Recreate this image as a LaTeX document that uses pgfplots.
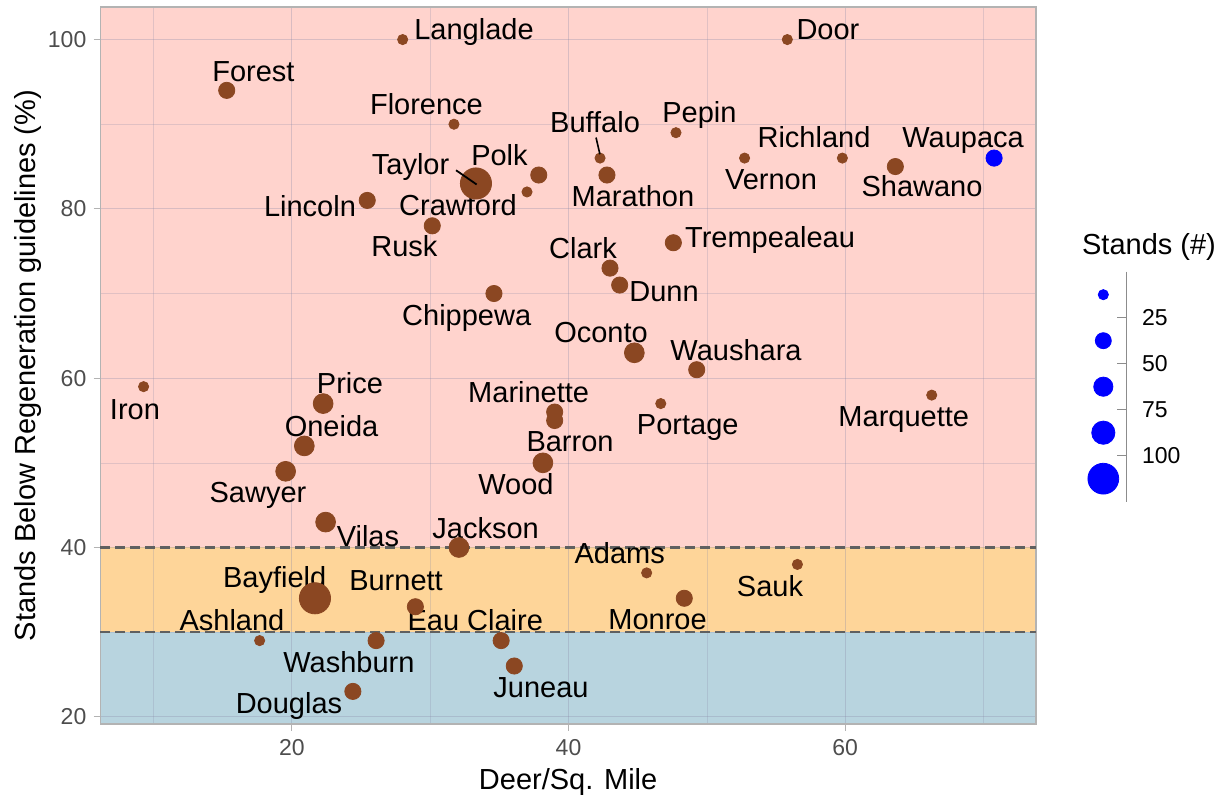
\documentclass[border=0pt]{standalone}
\usepackage{pgfplots}
\usepackage{pgfplotstable}
\pgfplotsset{compat=1.18}
\usepackage{fontspec}
\setmainfont{Liberation Sans}
\definecolor{pinkband}{HTML}{FFD3CD}
\definecolor{orangeband}{HTML}{FED599}
\definecolor{blueband}{HTML}{B8D4DF}
\definecolor{brownpt}{HTML}{8B4722}
\definecolor{borderg}{HTML}{B3B3B3}
\definecolor{tickg}{HTML}{4D4D4D}
\definecolor{gridc}{HTML}{8A8AA8}
\definecolor{dashg}{HTML}{606060}
\definecolor{legg}{HTML}{8C8C8C}
\newcommand{\lab}{\fontsize{14.5}{17}\selectfont}
\newcommand{\tck}{\fontsize{11.5}{13}\selectfont}

\pgfplotstableread{
x y r
28.01 100 2.55
55.82 100 2.55
15.29 94 4.05
31.72 90 2.55
47.77 89 2.55
42.28 86 2.55
52.73 86 2.55
59.80 86 2.55
63.63 85 4.05
33.31 83 7.8
37.85 84 4.05
42.78 84 4.05
37.00 82 2.55
25.45 81 4.05
30.15 78 4.05
47.58 76 4.05
43.00 73 4.05
43.70 71 4.05
34.61 70 4.05
44.76 63 4.95
49.27 61 4.05
9.28 59 2.55
66.26 58 2.55
46.67 57 2.55
22.26 57 4.95
39.00 56 4.05
39.00 55 4.05
38.15 50 4.95
20.90 52 4.95
19.55 49 4.95
22.44 43 4.95
32.08 40 4.95
45.65 37 2.55
56.55 38 2.55
21.67 34 7.8
48.37 34 4.05
28.93 33 4.05
17.67 29 2.55
26.09 29 4.05
35.13 29 4.05
36.08 26 4.05
24.41 23 4.05
}\brownpts

\pgfplotstableread{
x y r
70.77 86 4.05
}\bluepts

\pgfplotstableread{
x y r
0 12.5 2.55
0 37.5 4.0
0 62.5 4.8
0 87.5 5.8
0 112.5 7.7
}\legpts

\begin{document}
\begin{tikzpicture}
\begin{axis}[
  set layers,
  at={(0pt,0pt)}, anchor=south west,
  scale only axis, width=467.85pt, height=358.5pt,
  xmin=6.15, xmax=73.8, ymin=19.15, ymax=103.85,
  xtick={20,40,60}, minor xtick={10,30,50,70},
  ytick={20,40,60,80,100}, minor ytick={30,50,70,90},
  grid=both,
  major grid style={draw=gridc, opacity=0.32, line width=0.55pt},
  minor grid style={draw=gridc, opacity=0.25, line width=0.3pt},
  tick pos=left, tick align=outside,
  major tick length=3.3pt, minor tick length=0pt,
  tick style={draw=borderg, line width=0.6pt},
  axis line style={draw=borderg, line width=0.7pt},
  /pgf/number format/assume math mode=true,
  ticklabel style={font=\tck, text=tickg, inner sep=0pt},
  yticklabel style={anchor=east, xshift=-3.5pt},
  xticklabel style={anchor=north, yshift=-4.3pt},
  xlabel={Deer/Sq. Mile},
  ylabel={Stands Below Regeneration guidelines (\%)},
  label style={font=\lab},
  xlabel style={at={([yshift=-32.65pt]axis description cs:0.5,0)}, anchor=base},
  ylabel style={at={([xshift=-32.3pt]axis description cs:0,0.5)}, anchor=base},
  clip=false,
]
\begin{pgfonlayer}{axis background}
\fill[blueband] (axis cs:6.15,19.15) rectangle (axis cs:73.8,30);
\fill[orangeband] (axis cs:6.15,30) rectangle (axis cs:73.8,40);
\fill[pinkband] (axis cs:6.15,40) rectangle (axis cs:73.8,103.85);
\end{pgfonlayer}
\draw[dashg, line width=1.2pt, dash pattern=on 4.8pt off 2.7pt] (axis cs:6.15,40) -- (axis cs:73.8,40);
\draw[dashg, line width=1.2pt, dash pattern=on 4.8pt off 2.7pt] (axis cs:6.15,30) -- (axis cs:73.8,30);

\addplot[scatter, only marks, mark=*,
  scatter/use mapped color={draw=brownpt, fill=brownpt},
  visualization depends on={\thisrow{r} \as \msz},
  scatter/@pre marker code/.append style={/tikz/mark size=\msz}]
  table[x=x, y=y]{\brownpts};
\addplot[scatter, only marks, mark=*,
  scatter/use mapped color={draw=blue, fill=blue},
  visualization depends on={\thisrow{r} \as \msz},
  scatter/@pre marker code/.append style={/tikz/mark size=\msz}]
  table[x=x, y=y]{\bluepts};

\begin{pgfonlayer}{axis foreground}
\draw[black, line width=0.8pt] (axis cs:41.99,88.43) -- (axis cs:42.27,86.45);
\draw[black, line width=0.9pt] (axis cs:31.87,84.56) -- (axis cs:33.36,82.88);
\end{pgfonlayer}

\begin{scope}[every node/.style={font=\lab, anchor=base, inner sep=0pt}]
\node at (axis cs:33.17,100.04) {Langlade};
\node at (axis cs:58.76,100.04) {Door};
\node at (axis cs:17.22,95.08) {Forest};
\node at (axis cs:29.73,91.14) {Florence};
\node at (axis cs:49.47,90.2) {Pepin};
\node at (axis cs:41.92,89.02) {Buffalo};
\node at (axis cs:57.75,87.2) {Richland};
\node at (axis cs:68.53,87.2) {Waupaca};
\node at (axis cs:54.64,82.32) {Vernon};
\node at (axis cs:65.56,81.41) {Shawano};
\node at (axis cs:28.58,84.03) {Taylor};
\node at (axis cs:35.01,85.07) {Polk};
\node at (axis cs:44.66,80.23) {Marathon};
\node at (axis cs:21.31,79.05) {Lincoln};
\node at (axis cs:32.01,79.25) {Crawford};
\node at (axis cs:28.14,74.33) {Rusk};
\node at (axis cs:54.57,75.39) {Trempealeau};
\node at (axis cs:41.05,74.14) {Clark};
\node at (axis cs:46.91,69.01) {Dunn};
\node at (axis cs:32.64,66.26) {Chippewa};
\node at (axis cs:42.35,64.17) {Oconto};
\node at (axis cs:52.11,62.13) {Waushara};
\node at (axis cs:8.655,55.12) {Iron};
\node at (axis cs:24.2,58.17) {Price};
\node at (axis cs:37.12,57.08) {Marinette};
\node at (axis cs:48.62,53.35) {Portage};
\node at (axis cs:64.24,54.25) {Marquette};
\node at (axis cs:22.87,53.15) {Oneida};
\node at (axis cs:40.11,51.3) {Barron};
\node at (axis cs:36.2,46.26) {Wood};
\node at (axis cs:17.55,45.27) {Sawyer};
\node at (axis cs:25.5,40.08) {Vilas};
\node at (axis cs:34.01,41.07) {Jackson};
\node at (axis cs:43.7,38.12) {Adams};
\node at (axis cs:54.57,34.17) {Sauk};
\node at (axis cs:18.76,35.26) {Bayfield};
\node at (axis cs:27.53,34.96) {Burnett};
\node at (axis cs:46.44,30.32) {Monroe};
\node at (axis cs:15.67,30.24) {Ashland};
\node at (axis cs:33.26,30.16) {Eau Claire};
\node at (axis cs:24.13,25.2) {Washburn};
\node at (axis cs:38.01,22.27) {Juneau};
\node at (axis cs:19.79,20.4) {Douglas};
\end{scope}
\end{axis}

\begin{axis}[
  at={(513.2pt,111.15pt)}, anchor=south east,
  scale only axis, width=11.7pt, height=115pt,
  xmin=0, xmax=1, ymin=0, ymax=125, y dir=reverse,
  axis x line=none, axis y line=right,
  y axis line style={-, draw=legg, line width=0.7pt},
  ytick={25,50,75,100}, tick align=inside, major tick length=5pt,
  ytick style={draw=legg, line width=0.7pt},
  /pgf/number format/assume math mode=true,
  yticklabel style={font=\tck, text=black, anchor=west, inner sep=0pt, xshift=7.5pt},
  clip=false,
]
\addplot[scatter, only marks, mark=*,
  scatter/use mapped color={draw=blue, fill=blue},
  visualization depends on={\thisrow{r} \as \msz},
  scatter/@pre marker code/.append style={/tikz/mark size=\msz}]
  table[x=x, y=y]{\legpts};
\node[font=\lab, anchor=base west, inner sep=0pt] at ([xshift=-22.5pt, yshift=8.35pt]axis cs:1,0) {Stands (\#)};
\end{axis}
\pgfresetboundingbox
\path[use as bounding box] (-50.15pt,-35.5pt) rectangle (561.85pt,362pt);
\end{tikzpicture}
\end{document}
